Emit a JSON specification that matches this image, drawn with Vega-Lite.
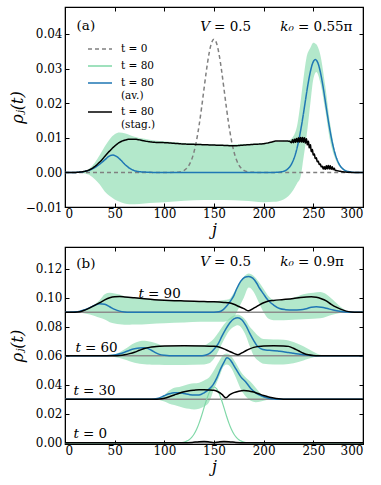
{
"$schema": "https://vega.github.io/schema/vega-lite/v6.json",
"background": "white",
"padding": {"left": 8, "top": 5, "right": 14, "bottom": 5},
"bounds": "flush",
"spacing": 40,
"config": {
  "font": "DejaVu Serif",
  "view": {"stroke": "#000", "strokeWidth": 1.2},
  "axis": {"labelFont": "DejaVu Serif", "labelFontSize": 12, "labelColor": "#000", "tickColor": "#000", "domainColor": "#000", "tickSize": -4, "tickWidth": 1, "grid": false, "titleFont": "DejaVu Serif", "titleFontWeight": "normal", "titleColor": "#000", "labelPadding": 5},
  "text": {"font": "DejaVu Serif", "fontSize": 13.5, "color": "#000"}
},
"datasets": {
  "a_line": [
    {"j":0,"y":0,"s":"t = 0"},{"j":100,"y":0,"s":"t = 0"},{"j":110,"y":0.00001,"s":"t = 0"},{"j":115,"y":0.00013,"s":"t = 0"},{"j":120,"y":0.0006,"s":"t = 0"},{"j":122.5,"y":0.00117,"s":"t = 0"},{"j":125,"y":0.00214,"s":"t = 0"},{"j":127.5,"y":0.00371,"s":"t = 0"},{"j":130,"y":0.00606,"s":"t = 0"},{"j":132.5,"y":0.00934,"s":"t = 0"},{"j":135,"y":0.01361,"s":"t = 0"},{"j":137.5,"y":0.0187,"s":"t = 0"},{"j":140,"y":0.02426,"s":"t = 0"},{"j":142.5,"y":0.0297,"s":"t = 0"},{"j":145,"y":0.0343,"s":"t = 0"},{"j":147.5,"y":0.0374,"s":"t = 0"},{"j":150,"y":0.0385,"s":"t = 0"},{"j":152.5,"y":0.0374,"s":"t = 0"},{"j":155,"y":0.0343,"s":"t = 0"},{"j":157.5,"y":0.0297,"s":"t = 0"},{"j":160,"y":0.02426,"s":"t = 0"},{"j":162.5,"y":0.0187,"s":"t = 0"},{"j":165,"y":0.01361,"s":"t = 0"},{"j":167.5,"y":0.00934,"s":"t = 0"},{"j":170,"y":0.00606,"s":"t = 0"},{"j":172.5,"y":0.00371,"s":"t = 0"},{"j":175,"y":0.00214,"s":"t = 0"},{"j":177.5,"y":0.00117,"s":"t = 0"},{"j":180,"y":0.0006,"s":"t = 0"},{"j":185,"y":0.00013,"s":"t = 0"},{"j":190,"y":0.00001,"s":"t = 0"},{"j":200,"y":0,"s":"t = 0"},{"j":300,"y":0,"s":"t = 0"},
    {"j":0,"y":0,"s":"t = 80 (av.)"},{"j":10,"y":0,"s":"t = 80 (av.)"},{"j":15,"y":0.0001,"s":"t = 80 (av.)"},{"j":20,"y":0.0003,"s":"t = 80 (av.)"},{"j":25,"y":0.0007,"s":"t = 80 (av.)"},{"j":30,"y":0.0014,"s":"t = 80 (av.)"},{"j":35,"y":0.0024,"s":"t = 80 (av.)"},{"j":40,"y":0.0036,"s":"t = 80 (av.)"},{"j":44,"y":0.0046,"s":"t = 80 (av.)"},{"j":48,"y":0.005,"s":"t = 80 (av.)"},{"j":52,"y":0.0046,"s":"t = 80 (av.)"},{"j":56,"y":0.0036,"s":"t = 80 (av.)"},{"j":60,"y":0.0024,"s":"t = 80 (av.)"},{"j":65,"y":0.0012,"s":"t = 80 (av.)"},{"j":70,"y":0.0005,"s":"t = 80 (av.)"},{"j":75,"y":0.0002,"s":"t = 80 (av.)"},{"j":80,"y":0.0001,"s":"t = 80 (av.)"},{"j":90,"y":0,"s":"t = 80 (av.)"},{"j":210,"y":0,"s":"t = 80 (av.)"},{"j":217,"y":0.00013,"s":"t = 80 (av.)"},{"j":222,"y":0.00055,"s":"t = 80 (av.)"},{"j":227,"y":0.00192,"s":"t = 80 (av.)"},{"j":229.5,"y":0.00328,"s":"t = 80 (av.)"},{"j":232,"y":0.00531,"s":"t = 80 (av.)"},{"j":234.5,"y":0.00813,"s":"t = 80 (av.)"},{"j":237,"y":0.01175,"s":"t = 80 (av.)"},{"j":239.5,"y":0.016,"s":"t = 80 (av.)"},{"j":242,"y":0.0207,"s":"t = 80 (av.)"},{"j":244.5,"y":0.0253,"s":"t = 80 (av.)"},{"j":247,"y":0.0291,"s":"t = 80 (av.)"},{"j":249.5,"y":0.0317,"s":"t = 80 (av.)"},{"j":252,"y":0.0326,"s":"t = 80 (av.)"},{"j":254.5,"y":0.0317,"s":"t = 80 (av.)"},{"j":257,"y":0.0291,"s":"t = 80 (av.)"},{"j":259.5,"y":0.0253,"s":"t = 80 (av.)"},{"j":262,"y":0.0207,"s":"t = 80 (av.)"},{"j":264.5,"y":0.016,"s":"t = 80 (av.)"},{"j":267,"y":0.01175,"s":"t = 80 (av.)"},{"j":269.5,"y":0.00813,"s":"t = 80 (av.)"},{"j":272,"y":0.00531,"s":"t = 80 (av.)"},{"j":274.5,"y":0.00328,"s":"t = 80 (av.)"},{"j":277,"y":0.00192,"s":"t = 80 (av.)"},{"j":282,"y":0.00055,"s":"t = 80 (av.)"},{"j":287,"y":0.00013,"s":"t = 80 (av.)"},{"j":292,"y":0,"s":"t = 80 (av.)"},{"j":300,"y":0,"s":"t = 80 (av.)"},
    {"j":0,"y":0,"s":"t = 80 (stag.)"},{"j":10,"y":0,"s":"t = 80 (stag.)"},{"j":15,"y":0.0001,"s":"t = 80 (stag.)"},{"j":20,"y":0.0003,"s":"t = 80 (stag.)"},{"j":25,"y":0.0008,"s":"t = 80 (stag.)"},{"j":30,"y":0.0017,"s":"t = 80 (stag.)"},{"j":35,"y":0.003,"s":"t = 80 (stag.)"},{"j":40,"y":0.0046,"s":"t = 80 (stag.)"},{"j":45,"y":0.0062,"s":"t = 80 (stag.)"},{"j":50,"y":0.0076,"s":"t = 80 (stag.)"},{"j":55,"y":0.0087,"s":"t = 80 (stag.)"},{"j":60,"y":0.0093,"s":"t = 80 (stag.)"},{"j":65,"y":0.0096,"s":"t = 80 (stag.)"},{"j":70,"y":0.0096,"s":"t = 80 (stag.)"},{"j":75,"y":0.0094,"s":"t = 80 (stag.)"},{"j":80,"y":0.0091,"s":"t = 80 (stag.)"},{"j":90,"y":0.0087,"s":"t = 80 (stag.)"},{"j":100,"y":0.0086,"s":"t = 80 (stag.)"},{"j":110,"y":0.0084,"s":"t = 80 (stag.)"},{"j":120,"y":0.0082,"s":"t = 80 (stag.)"},{"j":130,"y":0.0081,"s":"t = 80 (stag.)"},{"j":140,"y":0.008,"s":"t = 80 (stag.)"},{"j":150,"y":0.0079,"s":"t = 80 (stag.)"},{"j":160,"y":0.0078,"s":"t = 80 (stag.)"},{"j":170,"y":0.0077,"s":"t = 80 (stag.)"},{"j":180,"y":0.0079,"s":"t = 80 (stag.)"},{"j":190,"y":0.0081,"s":"t = 80 (stag.)"},{"j":200,"y":0.0083,"s":"t = 80 (stag.)"},{"j":207,"y":0.0087,"s":"t = 80 (stag.)"},{"j":213,"y":0.0091,"s":"t = 80 (stag.)"},{"j":220,"y":0.0091,"s":"t = 80 (stag.)"},{"j":226,"y":0.009,"s":"t = 80 (stag.)"},
    {"j":228,"y":0.0086,"s":"t = 80 (stag.)"},{"j":229,"y":0.0094,"s":"t = 80 (stag.)"},{"j":230,"y":0.0086,"s":"t = 80 (stag.)"},{"j":231,"y":0.0096,"s":"t = 80 (stag.)"},{"j":232,"y":0.0087,"s":"t = 80 (stag.)"},{"j":233,"y":0.0098,"s":"t = 80 (stag.)"},{"j":234,"y":0.0088,"s":"t = 80 (stag.)"},{"j":235,"y":0.01,"s":"t = 80 (stag.)"},{"j":236,"y":0.0088,"s":"t = 80 (stag.)"},{"j":237,"y":0.0101,"s":"t = 80 (stag.)"},{"j":238,"y":0.0088,"s":"t = 80 (stag.)"},{"j":239,"y":0.0101,"s":"t = 80 (stag.)"},{"j":240,"y":0.0087,"s":"t = 80 (stag.)"},{"j":241,"y":0.01,"s":"t = 80 (stag.)"},{"j":242,"y":0.0085,"s":"t = 80 (stag.)"},{"j":243,"y":0.0097,"s":"t = 80 (stag.)"},{"j":244,"y":0.008,"s":"t = 80 (stag.)"},{"j":245,"y":0.009,"s":"t = 80 (stag.)"},{"j":246,"y":0.0071,"s":"t = 80 (stag.)"},{"j":247,"y":0.008,"s":"t = 80 (stag.)"},{"j":248,"y":0.006,"s":"t = 80 (stag.)"},{"j":249,"y":0.0066,"s":"t = 80 (stag.)"},{"j":250,"y":0.005,"s":"t = 80 (stag.)"},{"j":251,"y":0.0053,"s":"t = 80 (stag.)"},{"j":252,"y":0.004,"s":"t = 80 (stag.)"},{"j":253,"y":0.0042,"s":"t = 80 (stag.)"},{"j":254,"y":0.0031,"s":"t = 80 (stag.)"},{"j":255,"y":0.0032,"s":"t = 80 (stag.)"},{"j":256,"y":0.0023,"s":"t = 80 (stag.)"},{"j":257,"y":0.0024,"s":"t = 80 (stag.)"},{"j":258,"y":0.0016,"s":"t = 80 (stag.)"},{"j":259,"y":0.0018,"s":"t = 80 (stag.)"},{"j":260,"y":0.001,"s":"t = 80 (stag.)"},{"j":261,"y":0.0016,"s":"t = 80 (stag.)"},{"j":262,"y":0.0009,"s":"t = 80 (stag.)"},{"j":263,"y":0.0019,"s":"t = 80 (stag.)"},{"j":264,"y":0.001,"s":"t = 80 (stag.)"},{"j":265,"y":0.002,"s":"t = 80 (stag.)"},{"j":266,"y":0.001,"s":"t = 80 (stag.)"},{"j":267,"y":0.0019,"s":"t = 80 (stag.)"},{"j":268,"y":0.0009,"s":"t = 80 (stag.)"},{"j":269,"y":0.0016,"s":"t = 80 (stag.)"},{"j":270,"y":0.0008,"s":"t = 80 (stag.)"},{"j":271,"y":0.0012,"s":"t = 80 (stag.)"},{"j":272,"y":0.0006,"s":"t = 80 (stag.)"},{"j":274,"y":0.0005,"s":"t = 80 (stag.)"},{"j":277,"y":0.0003,"s":"t = 80 (stag.)"},{"j":282,"y":0.0001,"s":"t = 80 (stag.)"},{"j":290,"y":0,"s":"t = 80 (stag.)"},{"j":300,"y":0,"s":"t = 80 (stag.)"}
  ],
  "a_band": [
    {"j":15,"lo":0,"hi":0},{"j":20,"lo":-0.0003,"hi":0.0004},{"j":25,"lo":-0.0008,"hi":0.0012},{"j":30,"lo":-0.002,"hi":0.0028},{"j":35,"lo":-0.0035,"hi":0.005},{"j":40,"lo":-0.0055,"hi":0.0075},{"j":45,"lo":-0.0068,"hi":0.0096},{"j":50,"lo":-0.0078,"hi":0.011},{"j":55,"lo":-0.0085,"hi":0.0115},{"j":60,"lo":-0.009,"hi":0.0113},{"j":65,"lo":-0.0092,"hi":0.0108},{"j":70,"lo":-0.0092,"hi":0.0103},{"j":80,"lo":-0.009,"hi":0.0097},{"j":90,"lo":-0.0088,"hi":0.0092},{"j":100,"lo":-0.0086,"hi":0.009},{"j":120,"lo":-0.0082,"hi":0.0085},{"j":140,"lo":-0.008,"hi":0.0082},{"j":160,"lo":-0.008,"hi":0.008},{"j":180,"lo":-0.0082,"hi":0.0082},{"j":200,"lo":-0.0086,"hi":0.0085},{"j":210,"lo":-0.0085,"hi":0.0088},{"j":220,"lo":-0.0078,"hi":0.009},{"j":225,"lo":-0.0068,"hi":0.0092},{"j":230,"lo":-0.005,"hi":0.0105},{"j":234,"lo":-0.003,"hi":0.014},{"j":237,"lo":-0.0015,"hi":0.02},{"j":240,"lo":0.004,"hi":0.027},{"j":243,"lo":0.01,"hi":0.033},{"j":247,"lo":0.02,"hi":0.036},{"j":250,"lo":0.027,"hi":0.0375},{"j":253,"lo":0.029,"hi":0.037},{"j":257,"lo":0.026,"hi":0.034},{"j":262,"lo":0.018,"hi":0.025},{"j":267,"lo":0.009,"hi":0.014},{"j":272,"lo":0.004,"hi":0.006},{"j":280,"lo":0.0008,"hi":0.0012},{"j":290,"lo":0,"hi":0}
  ],
  "a_label": [{"j":21,"y":0.0424,"label":"(a)"}],
  "a_math": [
    {"j":146,"y":0.0419,"it":"V","rest":"= 0.5"},{"j":230.5,"y":0.0419,"it":"k₀","rest":"= 0.55π"}
  ],
  "b_base": [{"y":0},{"y":0.03},{"y":0.06},{"y":0.09}],
  "b_t0": [
    {"j":0,"y":0},{"j":100,"y":0},{"j":110,"y":0.00001},{"j":115,"y":0.00013},{"j":120,"y":0.0006},{"j":122.5,"y":0.00117},{"j":125,"y":0.00214},{"j":127.5,"y":0.00371},{"j":130,"y":0.00606},{"j":132.5,"y":0.00934},{"j":135,"y":0.01361},{"j":137.5,"y":0.0187},{"j":140,"y":0.02426},{"j":142.5,"y":0.0297},{"j":145,"y":0.0343},{"j":147.5,"y":0.0374},{"j":150,"y":0.0385},{"j":152.5,"y":0.0374},{"j":155,"y":0.0343},{"j":157.5,"y":0.0297},{"j":160,"y":0.02426},{"j":162.5,"y":0.0187},{"j":165,"y":0.01361},{"j":167.5,"y":0.00934},{"j":170,"y":0.00606},{"j":172.5,"y":0.00371},{"j":175,"y":0.00214},{"j":177.5,"y":0.00117},{"j":180,"y":0.0006},{"j":185,"y":0.00013},{"j":190,"y":0.00001},{"j":200,"y":0},{"j":300,"y":0}
  ],
  "b_band": [
    {"g":"30","j":90,"lo":0.03,"hi":0.03},{"g":"30","j":95,"lo":0.0295,"hi":0.031},{"g":"30","j":100,"lo":0.0285,"hi":0.033},{"g":"30","j":105,"lo":0.027,"hi":0.036},{"g":"30","j":110,"lo":0.026,"hi":0.038},{"g":"30","j":115,"lo":0.025,"hi":0.0385},{"g":"30","j":120,"lo":0.024,"hi":0.0395},{"g":"30","j":125,"lo":0.0235,"hi":0.0405},{"g":"30","j":130,"lo":0.023,"hi":0.041},{"g":"30","j":135,"lo":0.0235,"hi":0.0415},{"g":"30","j":140,"lo":0.025,"hi":0.043},{"g":"30","j":145,"lo":0.028,"hi":0.045},{"g":"30","j":150,"lo":0.037,"hi":0.05},{"g":"30","j":155,"lo":0.045,"hi":0.056},{"g":"30","j":160,"lo":0.053,"hi":0.061},{"g":"30","j":163,"lo":0.054,"hi":0.0615},{"g":"30","j":167,"lo":0.052,"hi":0.06},{"g":"30","j":172,"lo":0.045,"hi":0.055},{"g":"30","j":177,"lo":0.037,"hi":0.049},{"g":"30","j":182,"lo":0.032,"hi":0.045},{"g":"30","j":187,"lo":0.029,"hi":0.042},{"g":"30","j":192,"lo":0.028,"hi":0.038},{"g":"30","j":197,"lo":0.0285,"hi":0.034},{"g":"30","j":203,"lo":0.0295,"hi":0.0315},{"g":"30","j":210,"lo":0.03,"hi":0.03},
    {"g":"60","j":40,"lo":0.06,"hi":0.06},{"g":"60","j":45,"lo":0.0597,"hi":0.0604},{"g":"60","j":50,"lo":0.0592,"hi":0.061},{"g":"60","j":55,"lo":0.0585,"hi":0.0625},{"g":"60","j":60,"lo":0.0575,"hi":0.0645},{"g":"60","j":65,"lo":0.0563,"hi":0.0668},{"g":"60","j":70,"lo":0.0552,"hi":0.0688},{"g":"60","j":75,"lo":0.0545,"hi":0.07},{"g":"60","j":80,"lo":0.0542,"hi":0.0703},{"g":"60","j":85,"lo":0.054,"hi":0.0698},{"g":"60","j":90,"lo":0.0538,"hi":0.069},{"g":"60","j":100,"lo":0.0537,"hi":0.0668},{"g":"60","j":120,"lo":0.0537,"hi":0.0665},{"g":"60","j":140,"lo":0.054,"hi":0.0672},{"g":"60","j":145,"lo":0.0548,"hi":0.069},{"g":"60","j":150,"lo":0.058,"hi":0.072},{"g":"60","j":155,"lo":0.064,"hi":0.0765},{"g":"60","j":160,"lo":0.071,"hi":0.0815},{"g":"60","j":165,"lo":0.077,"hi":0.0855},{"g":"60","j":170,"lo":0.08,"hi":0.0878},{"g":"60","j":174,"lo":0.081,"hi":0.0885},{"g":"60","j":178,"lo":0.079,"hi":0.0872},{"g":"60","j":182,"lo":0.074,"hi":0.0845},{"g":"60","j":186,"lo":0.0665,"hi":0.08},{"g":"60","j":190,"lo":0.06,"hi":0.077},{"g":"60","j":195,"lo":0.0565,"hi":0.0735},{"g":"60","j":200,"lo":0.0545,"hi":0.0715},{"g":"60","j":210,"lo":0.054,"hi":0.0712},{"g":"60","j":220,"lo":0.054,"hi":0.071},{"g":"60","j":230,"lo":0.0548,"hi":0.0695},{"g":"60","j":240,"lo":0.0568,"hi":0.0665},{"g":"60","j":250,"lo":0.059,"hi":0.0628},{"g":"60","j":258,"lo":0.0598,"hi":0.0605},{"g":"60","j":265,"lo":0.06,"hi":0.06},
    {"g":"90","j":10,"lo":0.09,"hi":0.09},{"g":"90","j":15,"lo":0.0897,"hi":0.0905},{"g":"90","j":20,"lo":0.0892,"hi":0.0915},{"g":"90","j":25,"lo":0.0885,"hi":0.093},{"g":"90","j":30,"lo":0.0875,"hi":0.0955},{"g":"90","j":35,"lo":0.0862,"hi":0.0985},{"g":"90","j":40,"lo":0.085,"hi":0.1025},{"g":"90","j":45,"lo":0.0832,"hi":0.1035},{"g":"90","j":50,"lo":0.0822,"hi":0.103},{"g":"90","j":55,"lo":0.0817,"hi":0.1022},{"g":"90","j":60,"lo":0.0814,"hi":0.101},{"g":"90","j":65,"lo":0.0814,"hi":0.1003},{"g":"90","j":70,"lo":0.0815,"hi":0.0998},{"g":"90","j":85,"lo":0.082,"hi":0.0993},{"g":"90","j":100,"lo":0.0825,"hi":0.0985},{"g":"90","j":120,"lo":0.083,"hi":0.0978},{"g":"90","j":136,"lo":0.0834,"hi":0.0972},{"g":"90","j":150,"lo":0.0834,"hi":0.0975},{"g":"90","j":160,"lo":0.0835,"hi":0.0985},{"g":"90","j":165,"lo":0.0845,"hi":0.099},{"g":"90","j":170,"lo":0.0865,"hi":0.1035},{"g":"90","j":175,"lo":0.093,"hi":0.1095},{"g":"90","j":180,"lo":0.1,"hi":0.1145},{"g":"90","j":185,"lo":0.107,"hi":0.1168},{"g":"90","j":190,"lo":0.104,"hi":0.115},{"g":"90","j":195,"lo":0.097,"hi":0.111},{"g":"90","j":200,"lo":0.09,"hi":0.106},{"g":"90","j":205,"lo":0.0855,"hi":0.101},{"g":"90","j":210,"lo":0.0845,"hi":0.0985},{"g":"90","j":220,"lo":0.0845,"hi":0.0988},{"g":"90","j":230,"lo":0.0848,"hi":0.1},{"g":"90","j":240,"lo":0.0852,"hi":0.1025},{"g":"90","j":250,"lo":0.0855,"hi":0.1035},{"g":"90","j":257,"lo":0.0858,"hi":0.104},{"g":"90","j":263,"lo":0.087,"hi":0.1025},{"g":"90","j":270,"lo":0.0885,"hi":0.0985},{"g":"90","j":277,"lo":0.0895,"hi":0.094},{"g":"90","j":285,"lo":0.09,"hi":0.0905},{"g":"90","j":290,"lo":0.09,"hi":0.09}
  ],
  "b_av": [
    {"g":"30","j":0,"y":0.03},{"g":"30","j":85,"y":0.03},{"g":"30","j":90,"y":0.0303},{"g":"30","j":95,"y":0.031},{"g":"30","j":100,"y":0.0325},{"g":"30","j":105,"y":0.0338},{"g":"30","j":110,"y":0.0345},{"g":"30","j":115,"y":0.0345},{"g":"30","j":120,"y":0.034},{"g":"30","j":125,"y":0.0333},{"g":"30","j":130,"y":0.0329},{"g":"30","j":135,"y":0.033},{"g":"30","j":140,"y":0.0345},{"g":"30","j":145,"y":0.037},{"g":"30","j":149,"y":0.04},{"g":"30","j":153,"y":0.045},{"g":"30","j":157,"y":0.0515},{"g":"30","j":160,"y":0.0555},{"g":"30","j":163,"y":0.0586},{"g":"30","j":166,"y":0.0575},{"g":"30","j":169,"y":0.0545},{"g":"30","j":172,"y":0.051},{"g":"30","j":177,"y":0.0455},{"g":"30","j":182,"y":0.042},{"g":"30","j":187,"y":0.0375},{"g":"30","j":192,"y":0.0345},{"g":"30","j":196,"y":0.033},{"g":"30","j":200,"y":0.0318},{"g":"30","j":205,"y":0.0308},{"g":"30","j":210,"y":0.0302},{"g":"30","j":215,"y":0.03},{"g":"30","j":300,"y":0.03},
    {"g":"60","j":0,"y":0.06},{"g":"60","j":40,"y":0.06},{"g":"60","j":45,"y":0.0602},{"g":"60","j":50,"y":0.0606},{"g":"60","j":55,"y":0.0614},{"g":"60","j":60,"y":0.0625},{"g":"60","j":65,"y":0.0638},{"g":"60","j":70,"y":0.0648},{"g":"60","j":75,"y":0.0654},{"g":"60","j":79,"y":0.0655},{"g":"60","j":83,"y":0.0651},{"g":"60","j":87,"y":0.0638},{"g":"60","j":91,"y":0.0622},{"g":"60","j":95,"y":0.061},{"g":"60","j":100,"y":0.0603},{"g":"60","j":105,"y":0.06},{"g":"60","j":138,"y":0.06},{"g":"60","j":142,"y":0.0605},{"g":"60","j":146,"y":0.0618},{"g":"60","j":150,"y":0.0645},{"g":"60","j":154,"y":0.068},{"g":"60","j":158,"y":0.0735},{"g":"60","j":162,"y":0.0785},{"g":"60","j":166,"y":0.0828},{"g":"60","j":170,"y":0.0855},{"g":"60","j":174,"y":0.0862},{"g":"60","j":178,"y":0.0848},{"g":"60","j":182,"y":0.081},{"g":"60","j":186,"y":0.0755},{"g":"60","j":190,"y":0.0705},{"g":"60","j":193,"y":0.0672},{"g":"60","j":197,"y":0.065},{"g":"60","j":202,"y":0.064},{"g":"60","j":208,"y":0.0637},{"g":"60","j":215,"y":0.0632},{"g":"60","j":220,"y":0.0628},{"g":"60","j":225,"y":0.0622},{"g":"60","j":230,"y":0.0617},{"g":"60","j":235,"y":0.0612},{"g":"60","j":240,"y":0.0607},{"g":"60","j":245,"y":0.0603},{"g":"60","j":250,"y":0.0601},{"g":"60","j":256,"y":0.06},{"g":"60","j":300,"y":0.06},
    {"g":"90","j":0,"y":0.09},{"g":"90","j":5,"y":0.0901},{"g":"90","j":10,"y":0.0903},{"g":"90","j":15,"y":0.0908},{"g":"90","j":20,"y":0.0918},{"g":"90","j":25,"y":0.0932},{"g":"90","j":30,"y":0.0948},{"g":"90","j":35,"y":0.0959},{"g":"90","j":40,"y":0.0955},{"g":"90","j":45,"y":0.0938},{"g":"90","j":50,"y":0.092},{"g":"90","j":55,"y":0.0908},{"g":"90","j":60,"y":0.0902},{"g":"90","j":65,"y":0.09},{"g":"90","j":150,"y":0.09},{"g":"90","j":155,"y":0.0903},{"g":"90","j":159,"y":0.0917},{"g":"90","j":163,"y":0.0945},{"g":"90","j":166,"y":0.0972},{"g":"90","j":170,"y":0.1015},{"g":"90","j":173,"y":0.1064},{"g":"90","j":177,"y":0.1115},{"g":"90","j":181,"y":0.1142},{"g":"90","j":185,"y":0.1147},{"g":"90","j":189,"y":0.1135},{"g":"90","j":193,"y":0.11},{"g":"90","j":196,"y":0.1064},{"g":"90","j":200,"y":0.1025},{"g":"90","j":203,"y":0.0995},{"g":"90","j":206,"y":0.0972},{"g":"90","j":210,"y":0.095},{"g":"90","j":216,"y":0.0926},{"g":"90","j":222,"y":0.0918},{"g":"90","j":230,"y":0.0915},{"g":"90","j":237,"y":0.0917},{"g":"90","j":243,"y":0.0925},{"g":"90","j":248,"y":0.0935},{"g":"90","j":253,"y":0.0938},{"g":"90","j":258,"y":0.0935},{"g":"90","j":263,"y":0.0928},{"g":"90","j":270,"y":0.0915},{"g":"90","j":278,"y":0.0906},{"g":"90","j":287,"y":0.0901},{"g":"90","j":295,"y":0.09},{"g":"90","j":300,"y":0.09}
  ],
  "b_stag": [
    {"g":"0","j":0,"y":0},{"g":"0","j":120,"y":0},{"g":"0","j":128,"y":0.0003},{"g":"0","j":135,"y":0.0008},{"g":"0","j":140,"y":0.0009},{"g":"0","j":145,"y":0.0006},{"g":"0","j":150,"y":0.0001},{"g":"0","j":155,"y":0.0006},{"g":"0","j":160,"y":0.0009},{"g":"0","j":165,"y":0.0008},{"g":"0","j":172,"y":0.0003},{"g":"0","j":180,"y":0},{"g":"0","j":300,"y":0},
    {"g":"30","j":0,"y":0.03},{"g":"30","j":90,"y":0.03},{"g":"30","j":95,"y":0.0302},{"g":"30","j":100,"y":0.0308},{"g":"30","j":105,"y":0.0318},{"g":"30","j":110,"y":0.033},{"g":"30","j":115,"y":0.0342},{"g":"30","j":120,"y":0.0352},{"g":"30","j":125,"y":0.0359},{"g":"30","j":130,"y":0.0363},{"g":"30","j":135,"y":0.0366},{"g":"30","j":140,"y":0.0366},{"g":"30","j":145,"y":0.0365},{"g":"30","j":150,"y":0.0362},{"g":"30","j":154,"y":0.0352},{"g":"30","j":158,"y":0.0334},{"g":"30","j":162,"y":0.031},{"g":"30","j":166,"y":0.0332},{"g":"30","j":170,"y":0.0346},{"g":"30","j":175,"y":0.0356},{"g":"30","j":180,"y":0.036},{"g":"30","j":185,"y":0.0358},{"g":"30","j":190,"y":0.035},{"g":"30","j":195,"y":0.0338},{"g":"30","j":200,"y":0.0326},{"g":"30","j":205,"y":0.0316},{"g":"30","j":210,"y":0.0309},{"g":"30","j":215,"y":0.0304},{"g":"30","j":220,"y":0.0301},{"g":"30","j":225,"y":0.03},{"g":"30","j":300,"y":0.03},
    {"g":"60","j":0,"y":0.06},{"g":"60","j":50,"y":0.06},{"g":"60","j":55,"y":0.0602},{"g":"60","j":60,"y":0.0607},{"g":"60","j":65,"y":0.0615},{"g":"60","j":70,"y":0.0625},{"g":"60","j":75,"y":0.0638},{"g":"60","j":80,"y":0.065},{"g":"60","j":85,"y":0.0658},{"g":"60","j":90,"y":0.0663},{"g":"60","j":95,"y":0.0666},{"g":"60","j":100,"y":0.0668},{"g":"60","j":120,"y":0.0669},{"g":"60","j":140,"y":0.0668},{"g":"60","j":150,"y":0.0665},{"g":"60","j":155,"y":0.066},{"g":"60","j":160,"y":0.0648},{"g":"60","j":165,"y":0.0632},{"g":"60","j":170,"y":0.0617},{"g":"60","j":174,"y":0.0607},{"g":"60","j":178,"y":0.062},{"g":"60","j":182,"y":0.0635},{"g":"60","j":186,"y":0.0648},{"g":"60","j":190,"y":0.0658},{"g":"60","j":195,"y":0.0665},{"g":"60","j":200,"y":0.0668},{"g":"60","j":210,"y":0.0669},{"g":"60","j":220,"y":0.0668},{"g":"60","j":225,"y":0.0665},{"g":"60","j":230,"y":0.0652},{"g":"60","j":235,"y":0.0635},{"g":"60","j":240,"y":0.0618},{"g":"60","j":245,"y":0.0607},{"g":"60","j":250,"y":0.0602},{"g":"60","j":255,"y":0.06},{"g":"60","j":300,"y":0.06},
    {"g":"90","j":0,"y":0.09},{"g":"90","j":10,"y":0.0901},{"g":"90","j":15,"y":0.0904},{"g":"90","j":20,"y":0.0915},{"g":"90","j":25,"y":0.093},{"g":"90","j":30,"y":0.0948},{"g":"90","j":35,"y":0.0966},{"g":"90","j":40,"y":0.0985},{"g":"90","j":45,"y":0.1},{"g":"90","j":50,"y":0.1007},{"g":"90","j":55,"y":0.1008},{"g":"90","j":60,"y":0.1006},{"g":"90","j":70,"y":0.1},{"g":"90","j":80,"y":0.0993},{"g":"90","j":90,"y":0.0987},{"g":"90","j":100,"y":0.0983},{"g":"90","j":110,"y":0.098},{"g":"90","j":120,"y":0.0978},{"g":"90","j":130,"y":0.0976},{"g":"90","j":140,"y":0.0974},{"g":"90","j":150,"y":0.0972},{"g":"90","j":160,"y":0.0968},{"g":"90","j":165,"y":0.0965},{"g":"90","j":170,"y":0.0955},{"g":"90","j":175,"y":0.094},{"g":"90","j":180,"y":0.0925},{"g":"90","j":185,"y":0.091},{"g":"90","j":190,"y":0.0928},{"g":"90","j":195,"y":0.0948},{"g":"90","j":200,"y":0.0966},{"g":"90","j":205,"y":0.0978},{"g":"90","j":210,"y":0.0982},{"g":"90","j":220,"y":0.0988},{"g":"90","j":230,"y":0.0995},{"g":"90","j":237,"y":0.1002},{"g":"90","j":243,"y":0.1006},{"g":"90","j":248,"y":0.1007},{"g":"90","j":253,"y":0.1003},{"g":"90","j":258,"y":0.0993},{"g":"90","j":263,"y":0.0978},{"g":"90","j":268,"y":0.0955},{"g":"90","j":273,"y":0.0935},{"g":"90","j":278,"y":0.092},{"g":"90","j":283,"y":0.0908},{"g":"90","j":288,"y":0.0902},{"g":"90","j":295,"y":0.09},{"g":"90","j":300,"y":0.09}
  ],
  "b_label": [{"j":21,"y":0.1234,"label":"(b)"}],
  "b_math": [
    {"j":146,"y":0.1248,"it":"V","rest":"= 0.5"},{"j":230.5,"y":0.1248,"it":"k₀","rest":"= 0.9π"},
    {"j":79.5,"y":0.1028,"it":"t","rest":"= 90"},{"j":16,"y":0.0655,"it":"t","rest":"= 60"},{"j":14,"y":0.0359,"it":"t","rest":"= 30"},{"j":14,"y":0.0059,"it":"t","rest":"= 0"}
  ]
},
"vconcat": [
  {
    "width": 298, "height": 200,
    "layer": [
      {"data": {"name": "a_band"},
       "mark": {"type": "area", "interpolate": "monotone", "color": "#80d8a8", "fillOpacity": 0.6},
       "encoding": {
         "x": {"field": "j", "type": "quantitative", "scale": {"domain": [0, 300], "nice": false, "zero": false},
               "axis": {"orient": "bottom", "values": [0,50,100,150,200,250,300], "title": "j", "titleFontStyle": "italic", "titleFontSize": 16, "titlePadding": 2}},
         "y": {"field": "lo", "type": "quantitative", "scale": {"domain": [-0.01, 0.0478], "nice": false, "zero": false},
               "axis": {"orient": "left", "values": [-0.01,0,0.01,0.02,0.03,0.04], "format": ".2f", "title": "ρⱼ(t)", "titleFontStyle": "italic", "titleFontSize": 16, "titleX": -40, "labelPadding": 7}},
         "y2": {"field": "hi"}
       }},
      {"data": {"name": "a_line"},
       "mark": {"type": "line", "interpolate": "monotone", "strokeWidth": 1.5},
       "encoding": {
         "x": {"field": "j", "type": "quantitative", "axis": {"orient": "top", "values": [0,50,100,150,200,250,300], "labels": false, "title": null}},
         "y": {"field": "y", "type": "quantitative", "axis": {"orient": "right", "values": [-0.01,0,0.01,0.02,0.03,0.04], "labels": false, "title": null}},
         "color": {"field": "s", "type": "nominal",
                   "scale": {"domain": ["t = 0", "t = 80", "t = 80 (av.)", "t = 80 (stag.)"], "range": ["#808080", "#80d8a8", "#1f77b4", "#000000"]},
                   "legend": {"orient": "none", "legendX": 29, "legendY": 36, "title": null, "symbolType": "M-2.4,0H2.4", "symbolSize": 100, "symbolStrokeWidth": 1.5, "labelFontSize": 10.5, "labelFont": "DejaVu Serif", "labelOffset": 15, "padding": 0, "rowPadding": 5,
                              "labelExpr": "datum.label == 't = 80 (av.)' ? ['t = 80', '(av.)'] : datum.label == 't = 80 (stag.)' ? ['t = 80', '(stag.)'] : datum.label"}},
         "strokeDash": {"field": "s", "type": "nominal",
                        "scale": {"domain": ["t = 0", "t = 80", "t = 80 (av.)", "t = 80 (stag.)"], "range": [[4,3],[1,0],[1,0],[1,0]]},
                        "legend": {"orient": "none", "legendX": 29, "legendY": 36, "title": null, "symbolType": "M-2.4,0H2.4", "symbolSize": 100, "symbolStrokeWidth": 1.5, "labelFontSize": 10.5, "labelFont": "DejaVu Serif", "labelOffset": 15, "padding": 0, "rowPadding": 5,
                              "labelExpr": "datum.label == 't = 80 (av.)' ? ['t = 80', '(av.)'] : datum.label == 't = 80 (stag.)' ? ['t = 80', '(stag.)'] : datum.label"}}
       }},
      {"data": {"name": "a_label"},
       "mark": {"type": "text", "baseline": "middle", "align": "center"},
       "encoding": {
         "x": {"field": "j", "type": "quantitative", "axis": null},
         "y": {"field": "y", "type": "quantitative", "axis": null},
         "text": {"field": "label"}
       }},
      {"data": {"name": "a_math"},
       "mark": {"type": "text", "baseline": "middle", "align": "right", "fontStyle": "italic"},
       "encoding": {
         "x": {"field": "j", "type": "quantitative", "axis": null},
         "y": {"field": "y", "type": "quantitative", "axis": null},
         "text": {"field": "it"}
       }},
      {"data": {"name": "a_math"},
       "mark": {"type": "text", "baseline": "middle", "align": "left", "dx": 4},
       "encoding": {
         "x": {"field": "j", "type": "quantitative", "axis": null},
         "y": {"field": "y", "type": "quantitative", "axis": null},
         "text": {"field": "rest"}
       }}
    ],
    "resolve": {"axis": {"x": "independent", "y": "independent"}}
  },
  {
    "width": 298, "height": 197,
    "layer": [
      {"data": {"name": "b_band"},
       "mark": {"type": "area", "interpolate": "monotone", "color": "#80d8a8", "fillOpacity": 0.6},
       "encoding": {
         "x": {"field": "j", "type": "quantitative", "scale": {"domain": [0, 300], "nice": false, "zero": false},
               "axis": {"orient": "bottom", "values": [0,50,100,150,200,250,300], "title": "j", "titleFontStyle": "italic", "titleFontSize": 16, "titlePadding": 2}},
         "y": {"field": "lo", "type": "quantitative", "scale": {"domain": [-0.0008, 0.135], "nice": false, "zero": false},
               "axis": {"orient": "left", "values": [0,0.02,0.04,0.06,0.08,0.1,0.12], "format": ".2f", "title": "ρⱼ(t)", "titleFontStyle": "italic", "titleFontSize": 16, "titleX": -40, "labelPadding": 7}},
         "y2": {"field": "hi"},
         "detail": {"field": "g"}
       }},
      {"data": {"name": "b_base"},
       "mark": {"type": "rule", "color": "#8c8c8c", "strokeWidth": 1.5},
       "encoding": {"y": {"field": "y", "type": "quantitative", "axis": null}}},
      {"data": {"name": "b_t0"},
       "mark": {"type": "line", "interpolate": "monotone", "color": "#80d8a8", "strokeWidth": 1.2},
       "encoding": {
         "x": {"field": "j", "type": "quantitative", "axis": null},
         "y": {"field": "y", "type": "quantitative", "axis": null}
       }},
      {"data": {"name": "b_av"},
       "mark": {"type": "line", "interpolate": "monotone", "color": "#1f77b4", "strokeWidth": 1.5},
       "encoding": {
         "x": {"field": "j", "type": "quantitative", "axis": null},
         "y": {"field": "y", "type": "quantitative", "axis": null},
         "detail": {"field": "g"}
       }},
      {"data": {"name": "b_stag"},
       "mark": {"type": "line", "interpolate": "monotone", "color": "#000000", "strokeWidth": 1.5},
       "encoding": {
         "x": {"field": "j", "type": "quantitative", "axis": {"orient": "top", "values": [0,50,100,150,200,250,300], "labels": false, "title": null}},
         "y": {"field": "y", "type": "quantitative", "axis": {"orient": "right", "values": [0,0.02,0.04,0.06,0.08,0.1,0.12], "labels": false, "title": null}},
         "detail": {"field": "g"}
       }},
      {"data": {"name": "b_label"},
       "mark": {"type": "text", "baseline": "middle", "align": "center"},
       "encoding": {
         "x": {"field": "j", "type": "quantitative", "axis": null},
         "y": {"field": "y", "type": "quantitative", "axis": null},
         "text": {"field": "label"}
       }},
      {"data": {"name": "b_math"},
       "mark": {"type": "text", "baseline": "middle", "align": "right", "fontStyle": "italic"},
       "encoding": {
         "x": {"field": "j", "type": "quantitative", "axis": null},
         "y": {"field": "y", "type": "quantitative", "axis": null},
         "text": {"field": "it"}
       }},
      {"data": {"name": "b_math"},
       "mark": {"type": "text", "baseline": "middle", "align": "left", "dx": 4},
       "encoding": {
         "x": {"field": "j", "type": "quantitative", "axis": null},
         "y": {"field": "y", "type": "quantitative", "axis": null},
         "text": {"field": "rest"}
       }}
    ],
    "resolve": {"axis": {"x": "independent", "y": "independent"}}
  }
]
}
